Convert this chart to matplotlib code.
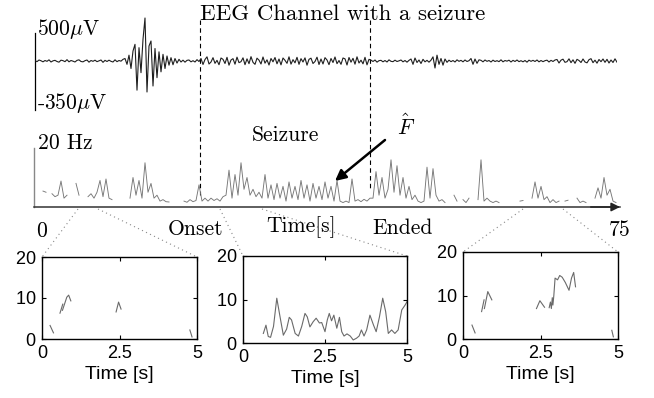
import matplotlib
matplotlib.use("Agg")
import matplotlib.pyplot as plt
import numpy as np

nan = np.nan

# EEG trace (uV), one sample every ~2 px along the top strip
eeg_uv = [
    # before the burst
    5, -8, 12, 3, -10, 6, -4, 14, -12, 2, 8, -6, -14, 10, 4, -8, 16, -10, 6, -2,
    -12, 8, 14, -6, -10, 4, 12, -14, 6, -4, 10, -8, 2, 12, -16, 8, -6, 10, -4, -12,
    14, -8, 6, -2, 20,
    # artefact burst
    30, -40, 70, -90, 120, 200, -350, 160, -140, 260, 516, -372, 180, 240, -300,
    150, -200, 110, -130, 80, -90, 60, -50, 40, -45, 30, -25, 20, -12, 10,
    -14, 8, 12, -10, 4, -12, 16, -6,
    # seizure
    30, -42, 18, 50, -36, -12, 40, -28, 8, -45, 36, 20, -30, 44, -50, 12, 28, -38,
    46, -20, -8, 38, -44, 26, -32, 52, -16, -40, 34, 10, -36, 48, -26, 14, -48, 30,
    -10, 42, -34, 24, -46, 36, 8, -28, 50, -38, 16, -22, 44, -40, 28, -12, 38, -50,
    20, 34, -30, -6, 46, -42, 24, -36, 40, 12, -44, 30, -18, 48, -32, 6, -40, 36,
    26, -48, 42, -14, 32, -38, 50, -24, 10, -34, 44, -46, 20,
    # after the seizure
    10, -6, 12, -14, 4, 8, -10, 6, -12, 14, -4, -8, 10, -6, 2, 12, -10, 6, -14, 8,
    24, -40, 36, -18, 12, -30, 20, -10, 8, -14, 10,
    50, -84, 70, -40, 30, -50, 24, -16,
    10, -8, 6, -12, 14, -4, 8, -10, 12, -6, 4,
    30, -40, 24, -28, 14,
    8, -10, 12, -4, 6, -12, 10, -6, 4, -8, 14, -10, 6, -2, 10, -12, 8, -6, 12, -8,
    4, -10, 6, -14, 10, -4, 8, -6, 12, -10, 6, -8, 4, 10, -12, 8, -6, 12,
    18, -24, 10, 22, -16, -8, 26, -20, 14, -28, 20, 6, -18, 24, -12, -22, 16, 28,
    -20, 10, -26, 18, -8, 24, -16, 20, -24, 12, -18, 26, -14,
]

# estimated frequency F-hat (Hz) over the 75 s record, gaps = nan
freq_hz = [
    nan, 5.4, 5.0, nan, 4.5, 3.5, 4.0, 8.8, 3.0, 4.0,
    nan, nan, 8.0, 4.0, nan, nan, 3.5, 4.5, 3.0, 5.0,
    9.0, 3.5, 9.5, 3.0, 2.5, nan, nan, nan, nan, nan,
    3.0, 10.0, 4.0, 9.0, 3.0, 15.0, 5.0, 8.0, 3.0, 4.0,
    2.0, 2.5, 1.8, 1.7, nan, nan, nan, nan, 2.0, 1.6,
    2.5, 1.8, 2.2, 7.5, 2.0, 3.0, 2.0, 3.0, 2.2, 2.8,
    2.0, 3.5, 4.0, 12.5, 3.0, 11.0, 4.0, 15.0, 6.0, 10.0,
    4.0, 6.0, 3.5, 5.0, 3.0, 11.0, 3.0, 7.5, 2.5, 8.0,
    3.0, 7.0, 2.0, 8.5, 3.0, 7.0, 2.5, 9.0, 3.0, 7.5,
    2.0, 8.0, 3.0, 7.0, 2.5, 8.5, 3.0, 7.0, 2.0, 9.0,
    2.0, 1.5, 2.0, 1.5, 9.5, 2.0, 2.5, 1.8, 2.6, 2.0,
    3.0, 3.0, 12.0, 4.0, 10.0, 3.0, 6.0, 16.0, 5.0, 14.0,
    4.0, 10.0, 3.0, 7.0, 2.5, 4.0, 2.0, 1.5, 2.0, 13.5,
    3.0, 13.0, 4.0, 2.0, 2.5, 1.5, nan, nan, 4.0, 2.0,
    nan, 2.5, 1.5, 3.0, nan, nan, 2.5, 16.0, 2.0, 3.0,
    2.0, 1.5, 2.0, 1.5, nan, nan, nan, nan, nan, nan,
    2.0, 2.2, nan, nan, 3.0, 8.5, 3.0, 7.0, 2.5, 3.5,
    1.5, 2.5, 1.5, 2.0, nan, 2.0, 2.3, nan, nan, 3.0,
    1.5, 2.0, 1.5, nan, nan, 3.0, 6.5, 3.0, 10.0, 4.0,
    6.0, 2.0, 1.5,
]

# zoomed 5 s windows
left_t = [0.26, 0.37, nan, 0.58, 0.67, nan, 0.66, 0.80, 0.86, 0.93, nan,
          2.39, 2.47, 2.55, nan, 4.77, 4.84]
left_f = [3.3, 1.5, nan, 6.3, 8.5, nan, 7.0, 10.2, 10.7, 9.3, nan,
          6.6, 9.0, 7.3, nan, 2.2, 0.5]

mid_t = [0.62, 0.70, 0.77, 0.84, 0.93, 1.03, 1.13, 1.23, 1.33, 1.41, 1.48, 1.59,
         1.69, 1.79, 1.89, 1.96, 2.04, 2.14, 2.23, 2.33, 2.40, 2.50, 2.57, 2.63,
         2.70, 2.77, 2.86, 2.94, 3.01, 3.08, 3.17, 3.27, 3.36, 3.46, 3.54, 3.61,
         3.69, 3.77, 3.87, 3.98, 4.06, 4.16, 4.26, 4.35, 4.43, 4.53, 4.63, 4.73,
         4.84, 4.94, 5.0]
mid_f = [2.2, 4.1, 1.5, 1.3, 3.8, 10.3, 6.0, 1.8, 3.2, 5.9, 5.3, 2.2,
         1.6, 3.8, 6.8, 6.0, 3.7, 4.9, 5.7, 4.6, 4.7, 2.6, 5.3, 6.8,
         5.1, 6.4, 3.4, 5.9, 2.6, 1.6, 2.1, 1.6, 0.7, 1.1, 1.6, 3.0,
         1.6, 3.0, 6.4, 4.1, 2.6, 6.0, 10.3, 7.2, 2.2, 3.0, 2.2, 3.0,
         7.6, 8.7, 9.5]

right_t = [0.29, 0.39, nan, 0.60, 0.68, nan, 0.69, 0.80, 0.93, nan,
           2.37, 2.48, 2.63, nan,
           2.78, 2.82, 2.85, 2.88, 2.90, 2.93, 2.97, 3.05, 3.12, 3.20, 3.30,
           3.42, 3.50, 3.57, 3.63, nan, 4.80, 4.85]
right_f = [3.2, 1.4, nan, 6.3, 9.0, nan, 7.0, 10.9, 9.0, nan,
           7.0, 8.8, 7.3, nan,
           7.2, 8.5, 7.0, 9.5, 7.8, 10.0, 14.0, 13.6, 14.6, 14.2, 13.0,
           11.2, 14.0, 15.3, 12.0, nan, 2.0, 0.5]

W, H = 654, 398
SERIF = ["cmr10", "DejaVu Serif"]
SANS = ["Liberation Sans", "DejaVu Sans"]
plt.rcParams["mathtext.fontset"] = "cm"
plt.rcParams["axes.formatter.use_mathtext"] = True


def box(x0, y0, x1, y1):
    # pixel box (top-left origin) -> figure fraction rect
    return [x0 / W, 1 - y1 / H, (x1 - x0) / W, (y1 - y0) / H]


fig = plt.figure(figsize=(W / 100, H / 100), dpi=100)

# EEG strip
ax_eeg = fig.add_axes(box(35, 15, 617, 115))
ax_eeg.plot(eeg_uv, color="#1e1e1e", lw=0.8)
ax_eeg.set_xlim(0, len(eeg_uv) - 1)
ax_eeg.set_ylim(-648, 552)
ax_eeg.axis("off")

# frequency strip
ax_f = fig.add_axes(box(34, 148, 620, 207))
ax_f.plot(freq_hz, color="#777777", lw=0.65)
ax_f.set_xlim(-2, 193.33)
ax_f.set_ylim(0, 20)
ax_f.set_xticks([])
ax_f.set_yticks([])
ax_f.spines["top"].set_visible(False)
ax_f.spines["right"].set_visible(False)
ax_f.spines["left"].set_color("#888888")
ax_f.spines["left"].set_linewidth(1.0)
ax_f.spines["bottom"].set_color("#333333")
ax_f.spines["bottom"].set_linewidth(1.1)
ax_f.patch.set_alpha(0)
ax_f.annotate("", xy=(1.0, 0), xycoords="axes fraction", xytext=(0.95, 0),
              arrowprops=dict(arrowstyle="-|>", color="#222222", lw=1.1,
                              mutation_scale=13, shrinkA=0, shrinkB=0),
              annotation_clip=False)

# zoomed insets
insets = [
    (box(42, 257, 197, 339), left_t, left_f),
    (box(243, 256, 407, 343), mid_t, mid_f),
    (box(463, 252, 618, 339), right_t, right_f),
]
for rect, t, f in insets:
    ax = fig.add_axes(rect)
    ax.plot(t, f, color="#6a6a6a", lw=0.8)
    ax.set_xlim(0, 5)
    ax.set_ylim(0, 20)
    ax.set_xticks([0, 2.5, 5])
    ax.set_xticklabels(["0", "2.5", "5"])
    ax.set_yticks([0, 10, 20])
    ax.tick_params(direction="in", length=3, width=0.8, top=True, right=True,
                   labelsize=13, pad=4)
    for lab in ax.get_xticklabels() + ax.get_yticklabels():
        lab.set_family(SANS)
    ax.set_xlabel("Time [s]", fontsize=14, family=SANS, labelpad=3)
    for s in ax.spines.values():
        s.set_linewidth(1.0)

# overlay for annotations, pixel coordinates
ov = fig.add_axes([0, 0, 1, 1], zorder=-1)
ov.set_xlim(0, W)
ov.set_ylim(H, 0)
ov.axis("off")

dash = dict(color="black", lw=0.8, linestyle=(0, (4, 3)))
ov.plot([200, 200], [20, 195], **dash)
ov.plot([370, 370], [20, 190], **dash)
ov.plot([35, 35], [33, 110], color="black", lw=0.9)

dot = dict(color="#888888", lw=0.8, linestyle=(0, (1, 3)))
for (xa, xb), (xc, yc) in [((78, 42), (42, 257)), ((98, 197), (197, 257)),
                           ((220, 243), (243, 256)), ((262, 407), (407, 256)),
                           ((523, 463), (463, 252)), ((563, 618), (618, 252))]:
    ov.plot([xa, xb], [209, yc], **dot)

st = dict(family=SERIF, fontsize=15.5, va="center")
ov.text(200, 14, "EEG Channel with a seizure", ha="left", family=SERIF,
        fontsize=16.5, va="center")
ov.text(37, 29, r"500$\mu$V", ha="left", **st)
ov.text(37, 103, r"-350$\mu$V", ha="left", **st)
ov.text(38, 143, "20 Hz", ha="left", **st)
ov.text(285, 135, "Seizure", ha="center", **st)
ov.text(406, 126, r"$\hat{F}$", ha="center", **st)
ov.annotate("", xy=(335, 181), xytext=(385, 140),
            arrowprops=dict(arrowstyle="-|>", color="black", lw=1.8,
                            mutation_scale=16, shrinkA=0, shrinkB=0))
ov.text(42, 231, "0", ha="center", **st)
ov.text(196, 229, "Onset", ha="center", **st)
ov.text(301, 227, "Time[s]", ha="center", **st)
ov.text(403, 228, "Ended", ha="center", **st)
ov.text(620, 230, "75", ha="center", **st)

fig.savefig("out.png", dpi=100)
